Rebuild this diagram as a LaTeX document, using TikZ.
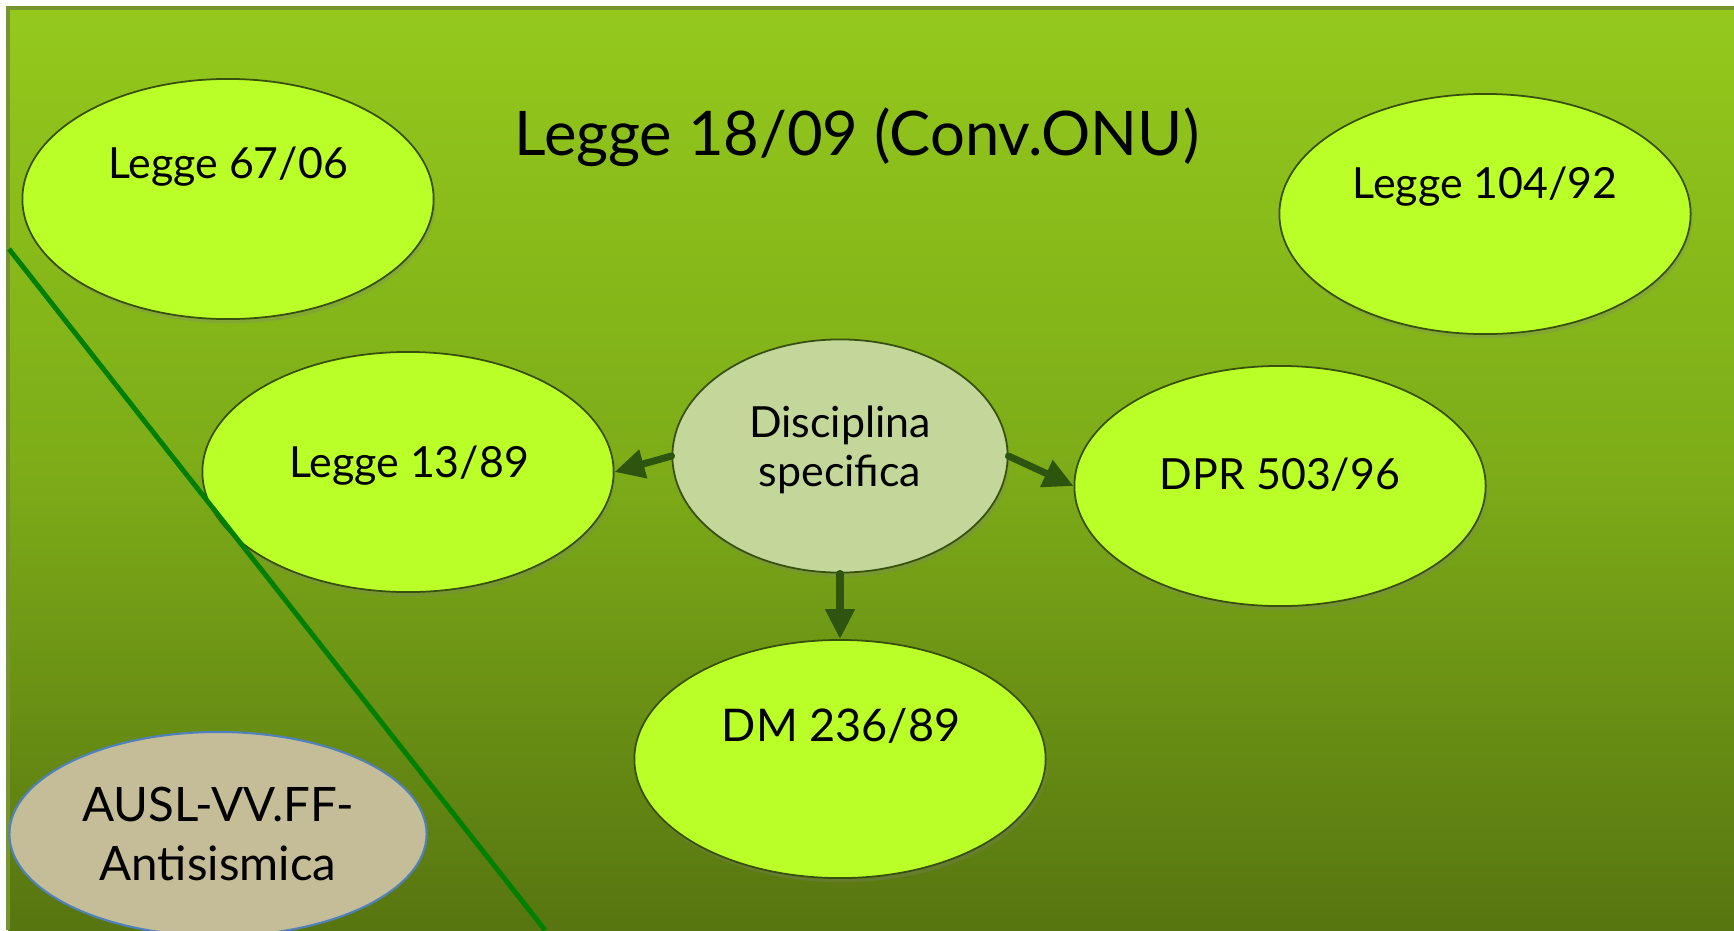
\documentclass[tikz,border=0pt]{standalone}
\usepackage{fontspec}
\setmainfont{Lato}
\usetikzlibrary{shapes.geometric,arrows.meta,shadows}
\definecolor{bgtop}{RGB}{148,201,28}
\definecolor{bgmid}{RGB}{125,172,24}
\definecolor{bgbot}{RGB}{87,117,16}
\definecolor{frameline}{RGB}{118,150,45}
\definecolor{lawfill}{RGB}{187,255,40}
\definecolor{lawline}{RGB}{55,80,15}
\definecolor{discfill}{RGB}{196,215,155}
\definecolor{auslfill}{RGB}{196,189,151}
\definecolor{auslline}{RGB}{79,129,189}
\definecolor{arrowgreen}{RGB}{45,85,15}
\definecolor{cutgreen}{RGB}{0,128,0}

\begin{document}
\begin{tikzpicture}[x=0.01cm, y=-0.01cm,
        law/.style={ellipse, draw=lawline, line width=0.5pt, fill=lawfill,
            minimum width=4.11cm, minimum height=2.40cm, inner sep=0pt,
            drop shadow={shadow xshift=0.6pt, shadow yshift=-1.2pt, opacity=0.25}},
        lawtext/.style={anchor=base, font=\fontsize{12.2}{14}\selectfont},
        link/.style={draw=arrowgreen, line width=2pt, line cap=round,
            -{Triangle[length=8.5pt, width=8pt]}}]
            \useasboundingbox (0,0) rectangle (1734,930);
            \fill[white] (0,0) rectangle (1734,930);
            \shade[top color=bgtop, bottom color=bgbot, middle color=bgmid] (8,8) rectangle (1734,930);
            \draw[frameline, line width=0.9pt] (1734,8) -- (8,8) -- (8,930);

            \node[anchor=base, font=\fontsize{17.5}{20}\selectfont] (title) at (857,155) {Legge 18/09 (Conv.ONU)};

            \node[law] (l67) at (228,199) {};
            \node[law] (l104) at (1485,214) {};
            \node[law] (l13) at (408,472) {};
            \node[law] (dpr) at (1280,486) {};
            \node[law, minimum height=2.38cm] (dm) at (840,759) {};
            \node[law, fill=discfill, minimum width=3.35cm, minimum height=2.33cm] (disc) at (840,456) {};
            \node[ellipse, draw=auslline, line width=0.6pt, fill=auslfill, minimum width=4.17cm,
                minimum height=2.04cm, inner sep=0pt, align=center,
                font=\fontsize{13.5}{16.6}\selectfont] (ausl) at (218,834) {AUSL-VV.FF-\\Antisismica};

            \node[lawtext] (t67) at (228,178) {Legge 67/06};
            \node[lawtext] (t104) at (1485,198) {Legge 104/92};
            \node[lawtext] (t13) at (409,477) {Legge 13/89};
            \node[lawtext] (tdpr) at (1280,489) {DPR 503/96};
            \node[lawtext, font=\fontsize{12.8}{15}\selectfont] (tdm) at (841,741) {DM 236/89};
            \node[lawtext, font=\fontsize{12.2}{14}\selectfont] (tdisc1) at (840,437) {Disciplina};
            \node[lawtext, font=\fontsize{12.2}{14}\selectfont] (tdisc2) at (840,486) {specifica};

            \coordinate (cutA) at (9,249);
            \coordinate (cutB) at (545,930);
            \draw[cutgreen, line width=1.4pt] (cutA) -- (cutB);

            \draw[link] (disc.west) -- (l13.east);
            \draw[link] (disc.east) -- (dpr.west);
            \draw[link] (disc.south) -- (dm.north);
        \end{tikzpicture}
\end{document}
